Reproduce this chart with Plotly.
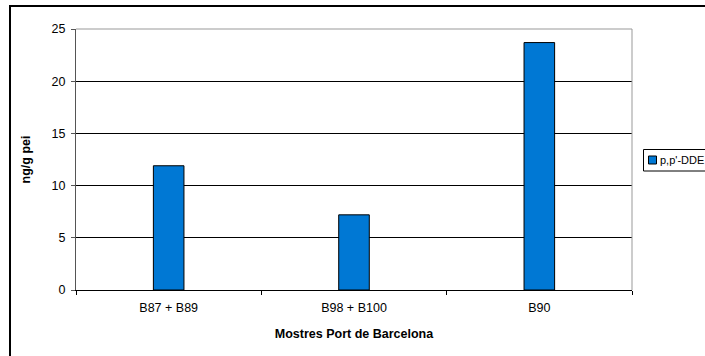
import plotly.graph_objects as go

# Sample sites and measured p,p'-DDE concentrations (ng/g fish)
categories = ["B87 + B89", "B98 + B100", "B90"]
dde_values = [11.9, 7.2, 23.7]
series_name = "p,p'-DDE"
y_ticks = [0, 5, 10, 15, 20, 25]

FONT = "Liberation Sans, Arial, sans-serif"
BAR_COLOR = "#0078d4"
FS = 12.5

# plot area in pixels: x 76..632, y 29..290
L, R, T, B = 76, 632, 29, 290
W, H = R - L, B - T


def px(x):
    return (x - L) / W


def py(y):
    return (B - y) / H


fig = go.Figure()
fig.add_trace(go.Bar(
    x=categories,
    y=dde_values,
    name=series_name,
    width=0.165,
    marker=dict(color=BAR_COLOR, line=dict(color="black", width=1)),
    showlegend=False,
))

fig.update_layout(
    width=705,
    height=356,
    margin=dict(l=L, r=705 - R, t=T, b=356 - B, autoexpand=False),
    paper_bgcolor="white",
    plot_bgcolor="white",
    font=dict(family=FONT, size=FS, color="black"),
    xaxis=dict(
        showline=True, linecolor="black", linewidth=1,
        ticks="outside", ticklen=4, tickcolor="black",
        tickson="boundaries",
        ticklabelstandoff=6,
        showgrid=False,
        title=dict(text="<b>Mostres Port de Barcelona</b>", standoff=15,
                   font=dict(family=FONT, size=FS)),
        tickfont=dict(family=FONT, size=FS),
    ),
    yaxis=dict(
        range=[0, 25],
        tickvals=y_ticks,
        showline=True, linecolor="#555555", linewidth=1,
        ticks="outside", ticklen=4, tickcolor="#555555",
        ticklabelstandoff=3,
        showgrid=True, gridcolor="black", gridwidth=1,
        zeroline=False,
        title=dict(text="<b>ng/g pei</b>", standoff=18,
                   font=dict(family=FONT, size=FS)),
        tickfont=dict(family=FONT, size=FS),
    ),
    shapes=[
        # grey plot-area frame on top and right
        dict(type="line", xref="paper", yref="paper", x0=0, x1=1, y0=1, y1=1,
             line=dict(color="#999999", width=1)),
        dict(type="line", xref="paper", yref="paper", x0=1, x1=1, y0=0, y1=1,
             line=dict(color="#999999", width=1)),
        # outer chart frame
        dict(type="rect", xref="paper", yref="paper",
             x0=px(10), x1=px(745), y0=py(385), y1=py(6),
             line=dict(color="black", width=2), layer="below"),
        # legend box
        dict(type="rect", xref="paper", yref="paper",
             x0=px(643.5), x1=px(720), y0=py(171), y1=py(149.5),
             line=dict(color="black", width=1), fillcolor="white"),
        # legend key
        dict(type="rect", xref="paper", yref="paper",
             x0=px(648.5), x1=px(656.5), y0=py(164), y1=py(156),
             line=dict(color="black", width=1), fillcolor=BAR_COLOR),
    ],
    annotations=[
        dict(text=series_name, xref="paper", yref="paper",
             x=px(658), y=py(160), xanchor="left", yanchor="middle",
             showarrow=False, font=dict(family=FONT, size=11)),
    ],
)

fig.write_html("out.html")
